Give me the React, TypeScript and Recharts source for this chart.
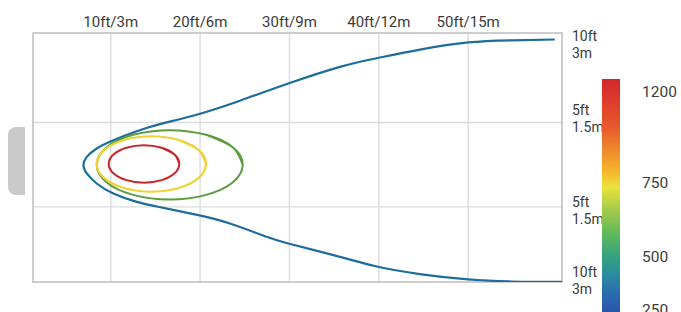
import * as React from "react";
import {
  CartesianGrid,
  Line,
  LineChart,
  ReferenceArea,
  XAxis,
  YAxis
} from "recharts";

// distance along the beam (ft) and lateral offset (ft)
const X_DOMAIN: [number, number] = [1.3, 60.5];
const Y_DOMAIN: [number, number] = [-13.9, 15.6];

const distTicks = [10, 20, 30, 40, 50];
const distLabels = ["10ft/3m", "20ft/6m", "30ft/9m", "40ft/12m", "50ft/15m"];
const gridRows = [5, -5];

const sideTicks = [14.2, 5.5, -5.4, -13.7];
const sideFt = ["10ft", "5ft", "5ft", "10ft"];
const sideM = ["3m", "1.5m", "1.5m", "3m"];

const luxLabels = ["1200", "750", "500", "250"];

// 250 lux outline
const lux250: [number, number][] = [
  [59.7, 14.83], [54.89, 14.73], [50.0, 14.48], [44.6, 13.63], [39.64, 12.58],
  [35.65, 11.59], [29.87, 9.62], [24.46, 7.58], [19.8, 5.98], [15.51, 4.8],
  [12.91, 3.97], [10.29, 2.9], [8.43, 1.92], [7.32, 0.92], [6.94, -0.04],
  [7.32, -1.04], [8.43, -2.23], [10.29, -3.41], [12.91, -4.41], [15.15, -4.95],
  [19.8, -5.98], [23.34, -6.97], [27.45, -8.55], [29.87, -9.34], [35.65, -10.92],
  [39.64, -12.03], [44.6, -12.97], [50.0, -13.6], [54.89, -13.84], [59.7, -13.89],
  [60.5, -13.89]
];

// 500 lux
const lux500: [number, number][] = [
  [24.77, -0.02], [23.68, 2.04], [20.69, 3.54], [16.6, 4.09], [12.51, 3.54],
  [9.52, 2.04], [8.43, -0.02], [9.52, -2.08], [12.51, -3.58], [16.6, -4.13],
  [20.69, -3.58], [23.68, -2.08], [24.77, -0.02], [23.68, 2.04], [20.69, 3.54]
];

// 750 lux
const lux750: [number, number][] = [
  [20.66, 0.08], [19.84, 1.73], [17.6, 2.93], [14.54, 3.37], [11.48, 2.93],
  [9.24, 1.73], [8.42, 0.08], [9.24, -1.57], [11.48, -2.77], [14.54, -3.21],
  [17.6, -2.77], [19.84, -1.57], [20.66, 0.08], [19.84, 1.73], [17.6, 2.93]
];

// 1200 lux
const lux1200: [number, number][] = [
  [17.67, 0.09], [17.14, 1.2], [15.7, 2.01], [13.72, 2.31], [11.75, 2.01],
  [10.3, 1.2], [9.77, 0.09], [10.3, -1.02], [11.75, -1.83], [13.72, -2.13],
  [15.7, -1.83], [17.14, -1.02], [17.67, 0.09], [17.14, 1.2], [15.7, 2.01]
];

const toRows = (pts: [number, number][]) => pts.map(([x, y]) => ({ x, y }));

const contours = [
  { key: "250", pts: lux250, color: "#1d6d9c", width: 2.2 },
  { key: "500", pts: lux500, color: "#5b9c3f", width: 2 },
  { key: "750", pts: lux750, color: "#eed338", width: 2.2 },
  { key: "1200", pts: lux1200, color: "#c8242c", width: 2 }
];

const FONT = "Roboto, 'Noto Sans', sans-serif";

function TopTick(props: any) {
  const { x, y, index } = props;
  return (
    <text x={x} y={y} textAnchor="middle" fill="#3a3a3a" fontSize={15} fontFamily={FONT}>
      {distLabels[index]}
    </text>
  );
}

function SideTick(props: any) {
  const { x, y, index } = props;
  return (
    <text x={x} y={y} textAnchor="start" fill="#3a3a3a" fontSize={14} fontFamily={FONT}>
      <tspan x={x} y={y - 3.5}>{sideFt[index]}</tspan>
      <tspan x={x} y={y + 13.5}>{sideM[index]}</tspan>
    </text>
  );
}

function ColorBar() {
  const ys = [97, 188, 262, 315];
  return (
    <svg
      width={681}
      height={312}
      style={{ position: "absolute", left: 0, top: 0, pointerEvents: "none" }}
    >
      <defs>
        <linearGradient id="luxbar" x1="0" y1="0" x2="0" y2="1">
          <stop offset="0%" stopColor="#d3262a" />
          <stop offset="20%" stopColor="#e8582c" />
          <stop offset="32%" stopColor="#f0952b" />
          <stop offset="39%" stopColor="#f4b92c" />
          <stop offset="45%" stopColor="#ebe23c" />
          <stop offset="54%" stopColor="#a8cc4a" />
          <stop offset="65%" stopColor="#5cb85c" />
          <stop offset="73%" stopColor="#38a57c" />
          <stop offset="82%" stopColor="#2a8aa2" />
          <stop offset="91%" stopColor="#2a66b0" />
          <stop offset="100%" stopColor="#2850a6" />
        </linearGradient>
      </defs>
      <rect x={602} y={79} width={18} height={240} fill="url(#luxbar)" />
      {luxLabels.map((l, i) => (
        <text key={l} x={642} y={ys[i]} fill="#3a3a3a" fontSize={15.5} fontFamily={FONT}>
          {l}
        </text>
      ))}
    </svg>
  );
}

export default function App() {
  return (
    <div
      style={{
        position: "absolute",
        left: 0,
        top: 0,
        width: 681,
        height: 312,
        overflow: "hidden",
        background: "#fff"
      }}
    >
      <div
        style={{
          position: "absolute",
          left: 8,
          top: 127,
          width: 17,
          height: 68,
          background: "#c9c9c9",
          borderRadius: "8px 0 0 8px"
        }}
      />
      <LineChart
        width={681}
        height={312}
        margin={{ top: 5, right: 59, bottom: 30, left: 33 }}
      >
        <CartesianGrid
          stroke="#dcdcdc"
          strokeWidth={1.4}
          horizontalValues={gridRows}
          verticalValues={distTicks}
        />
        <XAxis
          type="number"
          dataKey="x"
          orientation="top"
          domain={X_DOMAIN}
          allowDataOverflow
          ticks={distTicks}
          interval={0}
          height={28}
          tickSize={0}
          tickMargin={6}
          axisLine={false}
          tickLine={false}
          tick={<TopTick />}
        />
        <YAxis
          type="number"
          orientation="right"
          domain={Y_DOMAIN}
          allowDataOverflow
          ticks={sideTicks}
          interval={0}
          width={60}
          tickSize={0}
          tickMargin={10}
          axisLine={false}
          tickLine={false}
          tick={<SideTick />}
        />
        <ReferenceArea
          x1={X_DOMAIN[0]}
          x2={X_DOMAIN[1]}
          y1={Y_DOMAIN[0]}
          y2={Y_DOMAIN[1]}
          fill="none"
          stroke="#bdbdbd"
          strokeWidth={1.5}
          ifOverflow="visible"
        />
        {contours.map((c) => (
          <Line
            key={c.key}
            data={toRows(c.pts)}
            dataKey="y"
            type="natural"
            stroke={c.color}
            strokeWidth={c.width}
            dot={false}
            activeDot={false}
            isAnimationActive={false}
          />
        ))}
      </LineChart>
      <ColorBar />
    </div>
  );
}
